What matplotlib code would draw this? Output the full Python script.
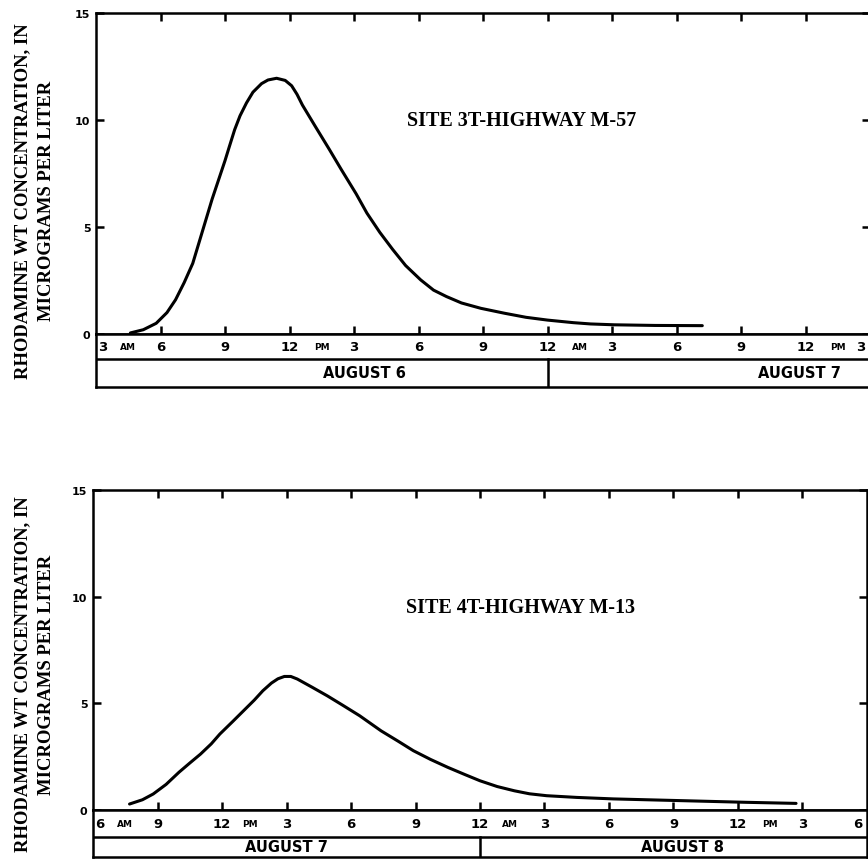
import matplotlib.pyplot as plt

# hours counted from midnight of the first day shown
site3_hours = [4.6, 5.2, 5.8, 6.3, 6.7, 7.1, 7.5, 7.8, 8.1, 8.4, 8.7, 9.0, 9.2,
               9.45, 9.7, 10.0, 10.3, 10.7, 11.0, 11.4, 11.8, 12.1, 12.35, 12.6,
               13.2, 13.85, 14.4, 15.1, 15.6, 16.2, 16.8, 17.4, 18.1, 18.7,
               19.3, 20.0, 20.9, 22.0, 23.0, 24.0, 25.2, 26.0, 27.1, 29.0, 31.2]
site3_conc = [0.05, 0.2, 0.5, 1.0, 1.6, 2.4, 3.3, 4.3, 5.3, 6.3, 7.2, 8.1, 8.75,
              9.55, 10.2, 10.8, 11.3, 11.7, 11.87, 11.95, 11.85, 11.6, 11.2, 10.7,
              9.7, 8.63, 7.7, 6.55, 5.65, 4.75, 3.95, 3.2, 2.53, 2.05,
              1.75, 1.45, 1.2, 0.97, 0.78, 0.65, 0.53, 0.47, 0.43, 0.4, 0.39]

site4_hours = [7.7, 8.3, 8.8, 9.4, 10.0, 10.5, 11.0, 11.5, 11.9, 12.5, 13.0,
               13.5, 13.9, 14.3, 14.6, 14.9, 15.2, 15.5, 16.2, 16.9, 17.6,
               18.4, 19.4, 20.2, 20.9, 21.7, 22.5, 23.3, 24.0, 24.8, 25.6,
               26.3, 27.1, 28.5, 30.2, 33.3, 36.4, 38.7]
site4_conc = [0.28, 0.48, 0.75, 1.2, 1.77, 2.2, 2.62, 3.1, 3.56, 4.15, 4.65,
              5.15, 5.59, 5.95, 6.15, 6.26, 6.26, 6.14, 5.75, 5.35, 4.92,
              4.42, 3.71, 3.22, 2.78, 2.37, 2.0, 1.66, 1.37, 1.1, 0.9,
              0.76, 0.67, 0.59, 0.52, 0.44, 0.36, 0.31]

top_ticks = [3, 6, 9, 12, 15, 18, 21, 24, 27, 30, 33, 36, 39]
top_labels = ["3", "6", "9", "12", "3", "6", "9", "12", "3", "6", "9", "12", "3"]
top_ampm = [(4.5, "AM"), (13.5, "PM"), (25.5, "AM"), (37.5, "PM")]
top_days = [(15.5, "AUGUST 6"), (35.7, "AUGUST 7")]

bot_ticks = [6, 9, 12, 15, 18, 21, 24, 27, 30, 33, 36, 39, 42]
bot_labels = ["6", "9", "12", "3", "6", "9", "12", "3", "6", "9", "12", "3", "6"]
bot_ampm = [(7.5, "AM"), (13.3, "PM"), (25.4, "AM"), (37.5, "PM")]
bot_days = [(15.0, "AUGUST 7"), (33.4, "AUGUST 8")]

W, H = 868, 862
fig = plt.figure(figsize=(W / 100, H / 100), dpi=100)

SERIF = "Liberation Serif"
LW = 1.8


def px_axes(l, t, r, b):
    return fig.add_axes([l / W, 1 - b / H, (r - l) / W, (b - t) / H])


def panel(top, left, right, bottom, band_mid, band_bot, hours, conc, xlim,
          ticks, labels, ampm, days, divider, site, site_x, site_y):
    ax = px_axes(left, top, right, bottom)
    ax.plot(hours, conc, color="black", lw=2.2, solid_capstyle="round",
            solid_joinstyle="round")
    ax.set_xlim(*xlim)
    ax.set_ylim(0, 15)
    for s in ax.spines.values():
        s.set_linewidth(LW)
    ax.set_xticks(ticks[1:-1])
    ax.set_xticklabels([])
    ax.set_yticks([0, 5, 10, 15])
    ax.set_yticklabels(["0", "5", "10", "15"], fontsize=8, fontweight="bold")
    ax.tick_params(direction="in", length=6, width=1.8, top=True, right=True,
                   pad=3)
    ax.tick_params(axis="y", pad=4)
    ax.text(site_x, site_y, site, family=SERIF, fontsize=14.5,
            fontweight="bold", ha="center", va="center")

    band = px_axes(left, bottom, right, band_bot)
    band.set_xlim(*xlim)
    band.set_ylim(0, 1)
    band.set_xticks([])
    band.set_yticks([])
    for s in band.spines.values():
        s.set_linewidth(LW)
    mid = (band_bot - band_mid) / (band_bot - bottom)
    band.axhline(mid, color="black", lw=LW)
    band.plot([divider, divider], [0, mid], color="black", lw=LW)
    yh = (1 + mid) / 2
    for i, (t, lab) in enumerate(zip(ticks, labels)):
        ha = "center"
        x = t
        if i == 0:
            ha, x = "left", t + 0.1
        elif i == len(ticks) - 1:
            ha, x = "right", t - 0.2
        band.text(x, yh, lab, fontsize=9.5, fontweight="bold", ha=ha,
                  va="center")
    for x, lab in ampm:
        band.text(x, yh, lab, fontsize=6.5, fontweight="bold", ha="center",
                  va="center")
    for x, lab in days:
        band.text(x, mid / 2, lab, fontsize=10.5, fontweight="bold",
                  ha="center", va="center")

    yc = 1 - ((top + band_bot) / 2) / H
    fig.text(23 / W, yc, "RHODAMINE WT CONCENTRATION, IN", rotation=90,
             family=SERIF, fontsize=13.4, fontweight="bold", ha="center",
             va="center")
    fig.text(47 / W, yc, "MICROGRAMS PER LITER", rotation=90,
             family=SERIF, fontsize=13.4, fontweight="bold", ha="center",
             va="center")
    return ax


panel(14, 96, 870, 335, 360, 388, site3_hours, site3_conc, (3, 39),
      top_ticks, top_labels, top_ampm, top_days, 24,
      "SITE 3T-HIGHWAY M-57", 22.8, 10.0)
panel(491, 93, 867, 811, 838, 858, site4_hours, site4_conc, (6, 42),
      bot_ticks, bot_labels, bot_ampm, bot_days, 24,
      "SITE 4T-HIGHWAY M-13", 25.9, 9.5)

fig.savefig("out.png", dpi=100)
